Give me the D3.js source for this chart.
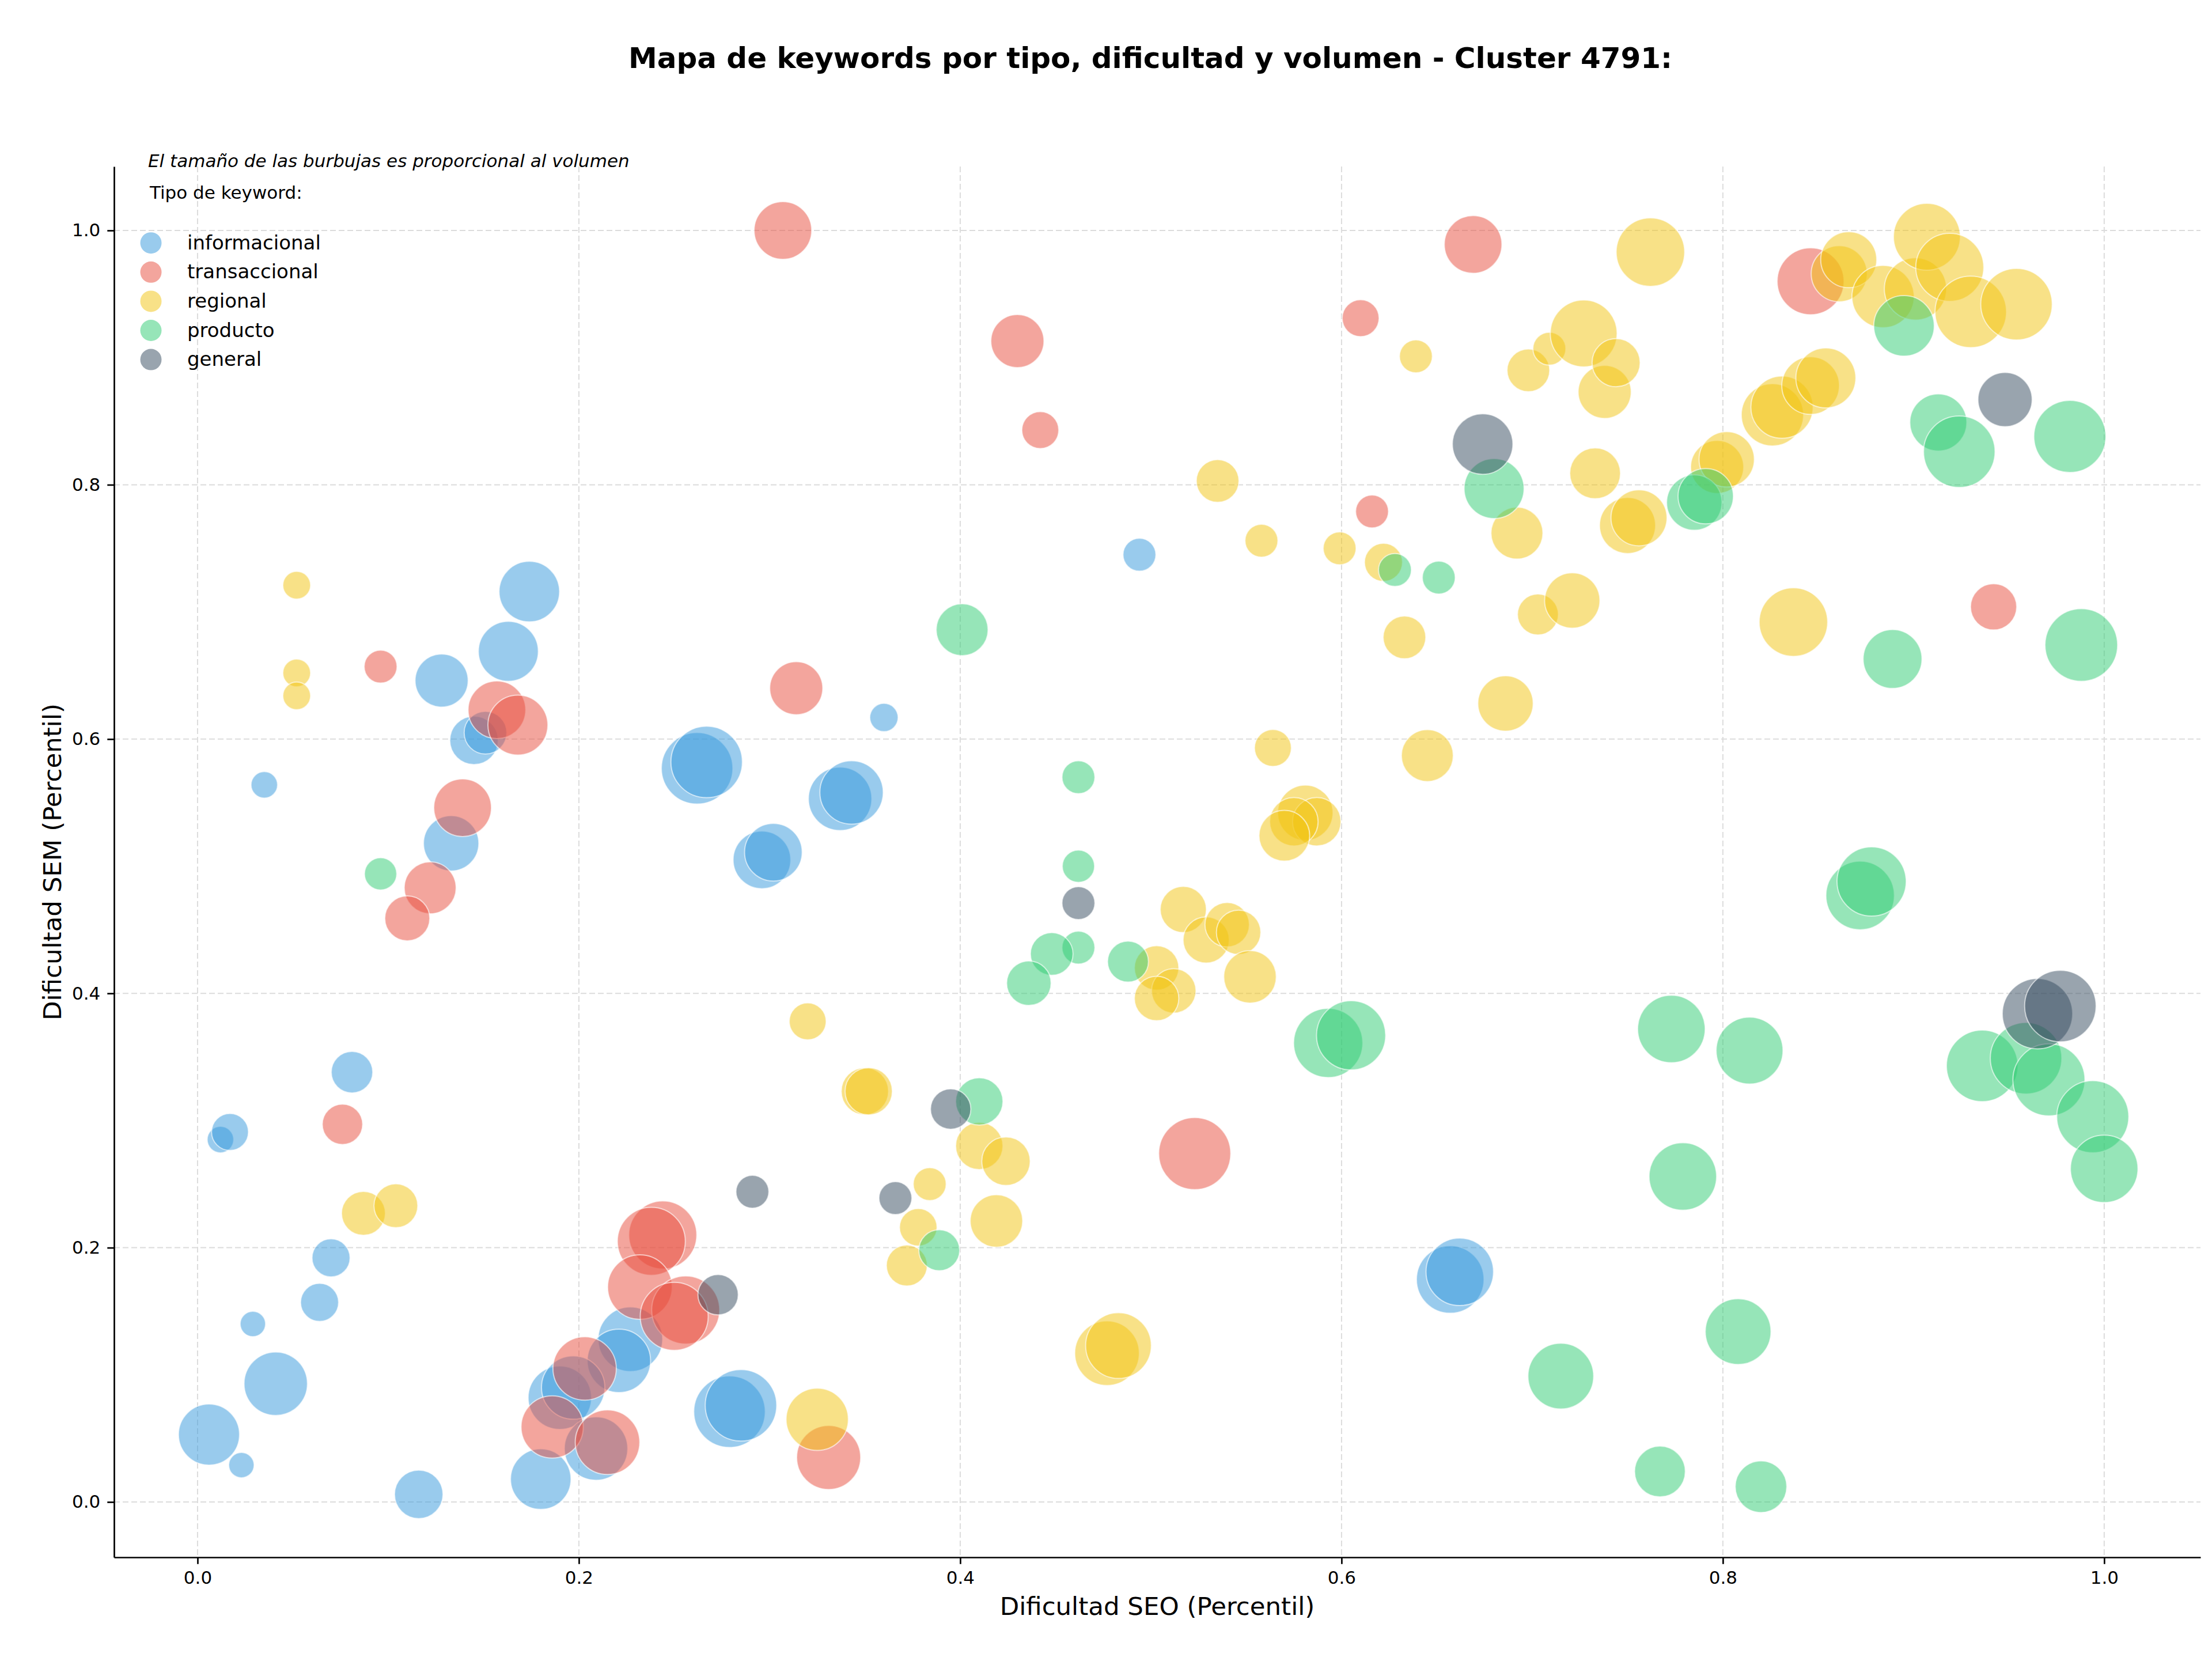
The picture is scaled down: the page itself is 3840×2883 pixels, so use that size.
<!DOCTYPE html>
<html>
<head>
  <meta charset="utf-8">
  <script src="https://d3js.org/d3.v7.min.js"></script>
  <style type="text/css">
  body { margin: 0; background: #fff; }
  svg { display: block; }
  text { font-family: "DejaVu Sans", sans-serif; fill: #000; }
  .axis path, .axis line { stroke: #000; stroke-width: 2.7; }
  .axis text { font-size: 31px; }
  .grid line { stroke: #dcdcdc; stroke-width: 2; stroke-dasharray: 10,5; }
  </style>
</head>
<body>
<script type="text/javascript">
  // keyword types, in legend order, and their colours
  var tipos = ["informacional", "transaccional", "regional", "producto", "general"];
  var colores = ["#3498DB", "#E74C3C", "#F1C40F", "#2ECC71", "#34495E"];

  // each point: [dificultad SEO, dificultad SEM, volumen]
  var informacional = [
    [0.006, 0.053, 5730], [0.023, 0.029, 990], [0.029, 0.140, 990], [0.041, 0.093, 6170],
    [0.064, 0.157, 2220], [0.070, 0.192, 2220], [0.012, 0.285, 1080], [0.017, 0.291, 2090],
    [0.081, 0.338, 2640], [0.116, 0.006, 3600], [0.180, 0.018, 5620], [0.035, 0.564, 1080],
    [0.128, 0.646, 4320], [0.163, 0.669, 5520], [0.174, 0.716, 5620], [0.145, 0.599, 3600],
    [0.151, 0.605, 2790], [0.133, 0.518, 4700], [0.262, 0.577, 7850], [0.267, 0.582, 7850],
    [0.296, 0.505, 5100], [0.302, 0.511, 5100], [0.337, 0.553, 6170], [0.343, 0.558, 6170],
    [0.360, 0.617, 1230], [0.494, 0.745, 1660], [0.657, 0.175, 7000], [0.662, 0.181, 7000],
    [0.227, 0.128, 6400], [0.221, 0.111, 6170], [0.190, 0.082, 6170], [0.197, 0.090, 6170],
    [0.209, 0.042, 6170], [0.279, 0.071, 7850], [0.285, 0.076, 7850]
  ];
  var transaccional = [
    [0.307, 1.000, 5100], [0.096, 0.657, 1660], [0.157, 0.623, 5100], [0.168, 0.611, 5520],
    [0.139, 0.546, 5100], [0.122, 0.483, 4130], [0.110, 0.459, 3100], [0.314, 0.640, 4320],
    [0.076, 0.297, 2500], [0.244, 0.210, 7100], [0.238, 0.205, 7100], [0.232, 0.169, 6400],
    [0.256, 0.151, 7100], [0.250, 0.146, 7100], [0.203, 0.105, 6170], [0.186, 0.059, 5950],
    [0.215, 0.047, 6400], [0.331, 0.035, 6290], [0.523, 0.274, 7970], [0.430, 0.913, 4320],
    [0.442, 0.843, 2090], [0.610, 0.931, 2090], [0.669, 0.989, 5100], [0.616, 0.779, 1660],
    [0.846, 0.960, 6860], [0.942, 0.704, 3270]
  ];
  var regional = [
    [0.052, 0.721, 1180], [0.052, 0.652, 1180], [0.052, 0.634, 1180], [0.087, 0.227, 2950],
    [0.104, 0.233, 2950], [0.320, 0.378, 2090], [0.325, 0.065, 5950], [0.350, 0.323, 3430],
    [0.352, 0.323, 3430], [0.372, 0.186, 2570], [0.378, 0.216, 2160], [0.384, 0.250, 1660],
    [0.410, 0.280, 3430], [0.424, 0.268, 3600], [0.419, 0.221, 4230], [0.477, 0.117, 6400],
    [0.483, 0.123, 6630], [0.517, 0.466, 3270], [0.529, 0.442, 3270], [0.540, 0.454, 3030],
    [0.546, 0.448, 3030], [0.503, 0.420, 3030], [0.512, 0.402, 3030], [0.503, 0.396, 3030],
    [0.552, 0.413, 4230], [0.581, 0.542, 4700], [0.587, 0.535, 3600], [0.575, 0.535, 3600],
    [0.570, 0.524, 3950], [0.564, 0.593, 2090], [0.645, 0.587, 4130], [0.633, 0.680, 2790],
    [0.686, 0.628, 4700], [0.535, 0.803, 2790], [0.558, 0.756, 1660], [0.599, 0.750, 1660],
    [0.622, 0.739, 2220], [0.639, 0.901, 1660], [0.692, 0.762, 4130], [0.698, 0.890, 2790],
    [0.703, 0.698, 2570], [0.709, 0.907, 1660], [0.721, 0.709, 4700], [0.727, 0.919, 6860],
    [0.733, 0.809, 3950], [0.738, 0.873, 4320], [0.744, 0.896, 3550], [0.750, 0.768, 4820],
    [0.756, 0.774, 4820], [0.762, 0.983, 7200], [0.797, 0.814, 4320], [0.802, 0.820, 4700],
    [0.826, 0.855, 5950], [0.831, 0.861, 5950], [0.846, 0.878, 5100], [0.854, 0.884, 5520],
    [0.861, 0.966, 4820], [0.866, 0.977, 4820], [0.884, 0.948, 5950], [0.901, 0.954, 5950],
    [0.907, 0.995, 6860], [0.919, 0.971, 7100], [0.930, 0.936, 7850], [0.954, 0.942, 7850],
    [0.837, 0.692, 7200]
  ];
  var producto = [
    [0.096, 0.494, 1600], [0.401, 0.686, 4130], [0.462, 0.570, 1660], [0.462, 0.500, 1600],
    [0.462, 0.436, 1660], [0.448, 0.431, 2790], [0.436, 0.408, 3030], [0.488, 0.425, 2570],
    [0.410, 0.315, 3430], [0.389, 0.198, 2570], [0.593, 0.361, 7350], [0.605, 0.367, 7350],
    [0.628, 0.733, 1660], [0.651, 0.727, 1660], [0.680, 0.797, 5520], [0.785, 0.786, 4700],
    [0.791, 0.791, 4700], [0.895, 0.925, 5620], [0.913, 0.849, 4980], [0.924, 0.826, 7850],
    [0.982, 0.838, 7970], [0.889, 0.663, 5310], [0.988, 0.674, 8100], [0.872, 0.477, 7200],
    [0.878, 0.488, 7350], [0.773, 0.372, 7000], [0.814, 0.355, 6860], [0.779, 0.256, 7000],
    [0.808, 0.134, 6630], [0.715, 0.099, 6630], [0.767, 0.024, 3950], [0.820, 0.012, 4080],
    [0.936, 0.343, 7850], [0.959, 0.349, 7850], [0.971, 0.332, 7970], [0.994, 0.303, 7970],
    [1.000, 0.262, 7000]
  ];
  var general = [
    [0.291, 0.244, 1660], [0.273, 0.163, 2500], [0.366, 0.239, 1660], [0.395, 0.309, 2500],
    [0.462, 0.471, 1660], [0.674, 0.832, 5620], [0.948, 0.867, 4510], [0.965, 0.384, 7590],
    [0.977, 0.390, 7850]
  ];
  var series = [informacional, transaccional, regional, producto, general];
  var ticks = [0, 0.2, 0.4, 0.6, 0.8, 1.0];

  var W = 3840, H = 2883;
  var margin = {left: 198, right: 3820, top: 289, bottom: 2703};

  var svg = d3.select("body").append("svg")
    .attr("width", W).attr("height", H);
  svg.append("rect").attr("width", W).attr("height", H).attr("fill", "#fff");

  var x = d3.scaleLinear().domain([-0.0438, 1.0505]).range([margin.left, margin.right]);
  var y = d3.scaleLinear().domain([-0.0435, 1.0503]).range([margin.bottom, margin.top]);
  var r = d3.scaleSqrt().domain([0, 8100]).range([0, 63]);
  var color = d3.scaleOrdinal().domain(tipos).range(colores);

  // grid
  var grid = svg.append("g").attr("class", "grid");
  grid.selectAll(".gx").data(ticks).enter().append("line")
    .attr("x1", function(d) { return x(d); }).attr("x2", function(d) { return x(d); })
    .attr("y1", margin.top).attr("y2", margin.bottom);
  grid.selectAll(".gy").data(ticks).enter().append("line")
    .attr("y1", function(d) { return y(d); }).attr("y2", function(d) { return y(d); })
    .attr("x1", margin.left).attr("x2", margin.right);

  // bubbles, one group per keyword type
  tipos.forEach(function(t, i) {
    svg.append("g").selectAll("circle")
      .data(series[i])
      .enter().append("circle")
      .attr("cx", function(d) { return x(d[0]); })
      .attr("cy", function(d) { return y(d[1]); })
      .attr("r", function(d) { return r(d[2]); })
      .attr("fill", color(t))
      .attr("fill-opacity", 0.5)
      .attr("stroke", "#fff")
      .attr("stroke-opacity", 0.6)
      .attr("stroke-width", 2);
  });

  // axes
  svg.append("g").attr("class", "axis")
    .attr("transform", "translate(0," + margin.bottom + ")")
    .call(d3.axisBottom(x).tickValues(ticks).tickFormat(d3.format(".1f"))
      .tickSize(11.7).tickSizeOuter(0).tickPadding(12));
  svg.append("g").attr("class", "axis")
    .attr("transform", "translate(" + margin.left + ",0)")
    .call(d3.axisLeft(y).tickValues(ticks).tickFormat(d3.format(".1f"))
      .tickSize(11.7).tickSizeOuter(0).tickPadding(12));

  // titles
  svg.append("text")
    .attr("x", 1997).attr("y", 118)
    .attr("text-anchor", "middle")
    .attr("font-weight", "bold")
    .style("font-size", "50px")
    .text("Mapa de keywords por tipo, dificultad y volumen - Cluster 4791:");

  svg.append("text")
    .attr("x", (margin.left + margin.right) / 2).attr("y", 2803)
    .attr("text-anchor", "middle")
    .style("font-size", "43.5px")
    .text("Dificultad SEO (Percentil)");

  svg.append("text")
    .attr("transform", "translate(106," + ((margin.top + margin.bottom) / 2) + ") rotate(-90)")
    .attr("text-anchor", "middle")
    .style("font-size", "43.5px")
    .text("Dificultad SEM (Percentil)");

  // legend
  svg.append("text")
    .attr("x", 257).attr("y", 290)
    .attr("font-style", "italic")
    .style("font-size", "31px")
    .text("El tamaño de las burbujas es proporcional al volumen");

  svg.append("text")
    .attr("x", 260).attr("y", 345)
    .style("font-size", "31px")
    .text("Tipo de keyword:");

  var legend = svg.selectAll(".legend")
    .data(tipos)
    .enter().append("g")
    .attr("class", "legend")
    .attr("transform", function(d, i) { return "translate(262," + (421.7 + i * 50.6) + ")"; });

  legend.append("circle")
    .attr("r", 18.5)
    .attr("fill", function(d) { return color(d); })
    .attr("fill-opacity", 0.5);

  legend.append("text")
    .attr("x", 63)
    .attr("y", 11)
    .style("font-size", "34px")
    .text(function(d) { return d; });
</script>
</body>
</html>
